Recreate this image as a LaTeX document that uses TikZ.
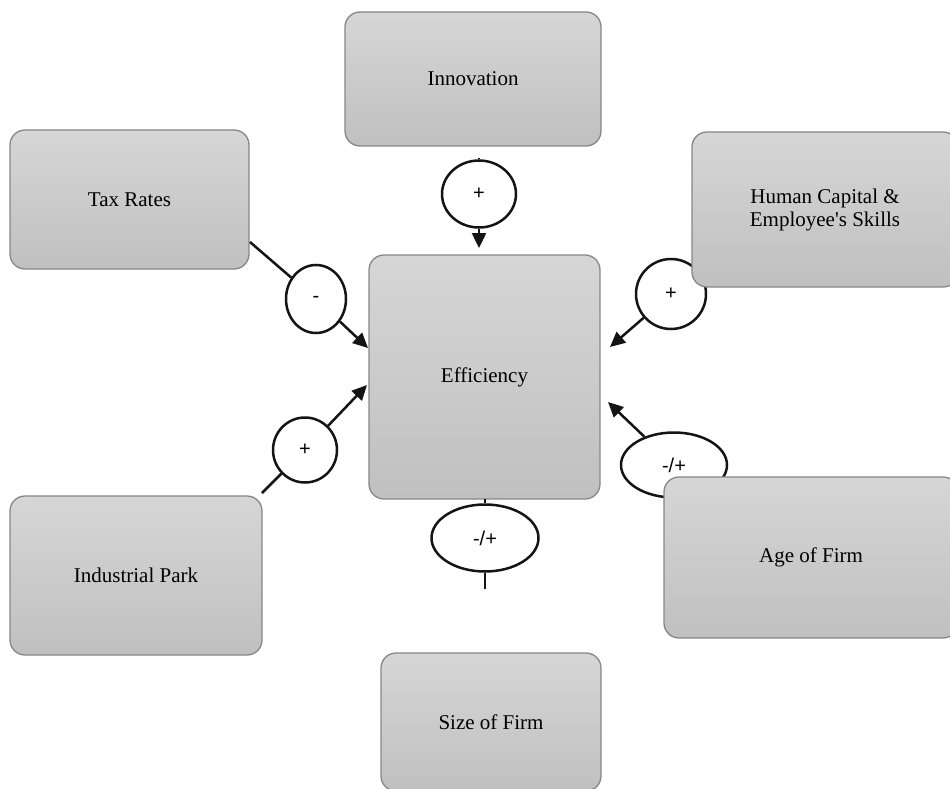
\documentclass[tikz,border=0pt]{standalone}
\usepackage{fontspec}
\setmainfont{Liberation Serif}
\newfontfamily\ellfont{Liberation Sans}
\usetikzlibrary{arrows.meta,shapes.geometric}
\definecolor{boxtop}{RGB}{214,214,214}
\definecolor{boxbot}{RGB}{192,192,192}
\definecolor{boxline}{RGB}{135,135,135}
\definecolor{inkline}{RGB}{20,20,20}
\begin{document}
\begin{tikzpicture}[x=1pt,y=-1pt,
  box/.style={rectangle, draw=boxline, line width=1.3pt, rounded corners=15pt,
    top color=boxtop, bottom color=boxbot, align=center, inner sep=0pt,
    font=\fontsize{21}{23}\selectfont},
  oval/.style={ellipse, draw=inkline, line width=2.5pt, fill=white, inner sep=0pt,
    font=\ellfont\fontsize{20}{22}\selectfont},
  link/.style={line width=2.5pt, draw=inkline},
  arr/.style={link, -{Triangle[length=15pt,width=14pt]}}]
\useasboundingbox (0,0) rectangle (950,789);
\clip (0,0) rectangle (950,789);
\fill[white] (0,0) rectangle (950,789);

% ellipses (drawn first, boxes overlap them)
\node[oval, minimum width=74pt, minimum height=67pt] (e1) at (479,194) {+};
\node[oval, minimum width=60pt, minimum height=68pt] (e2) at (316,299) {-};
\node[oval, minimum width=70pt, minimum height=70pt] (e3) at (671,294) {+};
\node[oval, minimum width=64pt, minimum height=65pt] (e4) at (305,450) {+};
\node[oval, minimum width=106pt, minimum height=65pt] (e5) at (674,465) {-/+};
\node[oval, minimum width=107pt, minimum height=67pt] (e6) at (485,538) {-/+};

% boxes
\node[box, minimum width=256pt, minimum height=134pt] (innov) at (473,79) {Innovation};
\node[box, minimum width=239pt, minimum height=139pt] (tax) at (129.5,199.5) {Tax Rates};
\node[box, minimum width=266pt, minimum height=155pt] (human) at (825,209.5) {Human Capital \&\\Employee\textquotesingle s Skills};
\node[box, minimum width=231pt, minimum height=244pt] (eff) at (484.5,377) {Efficiency};
\node[box, minimum width=252pt, minimum height=159pt] (indus) at (136,575.5) {Industrial Park};
\node[box, minimum width=294pt, minimum height=161pt] (age) at (811,557.5) {Age of Firm};
\node[box, minimum width=220pt, minimum height=138pt] (size) at (491,722) {Size of Firm};

% connector end points
\coordinate (s1) at (479,158);
\coordinate (t1) at (479,248);
\coordinate (s2) at (250,242);
\coordinate (t2) at (368,348);
\coordinate (t3) at (610,347);
\coordinate (s4) at (262,493);
\coordinate (t4) at (367,385);
\coordinate (t5) at (608,402);
\coordinate (s6) at (485,499);
\coordinate (t6) at (485,589);

% connectors
\draw[link] (s1) -- (e1);
\draw[arr] (e1) -- (t1);
\draw[link] (s2) -- (e2);
\draw[arr] (e2) -- (t2);
\draw[arr] (e3) -- (t3);
\draw[link] (s4) -- (e4);
\draw[arr] (e4) -- (t4);
\draw[arr] (e5) -- (t5);
\draw[link] (s6) -- (e6);
\draw[link] (e6) -- (t6);
\end{tikzpicture}
\end{document}
